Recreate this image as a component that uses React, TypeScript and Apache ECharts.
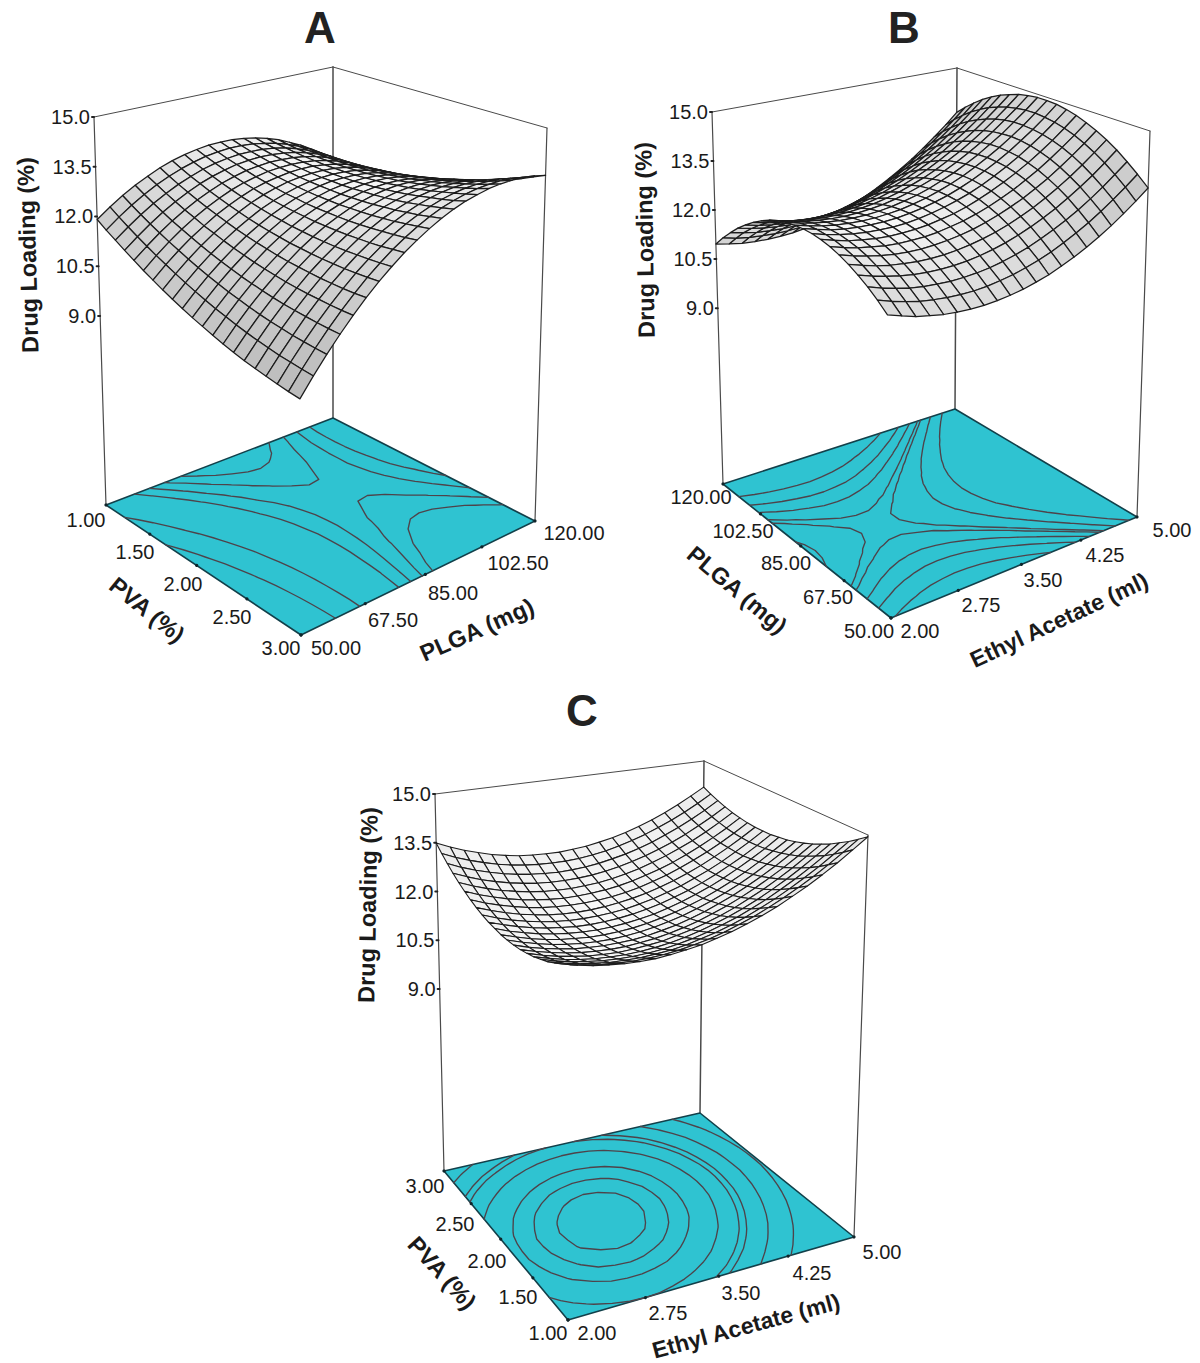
import React, { useEffect, useRef } from "react";
import * as echarts from "echarts";

// Drug Loading (%) read from the three surfaces. Rows: first factor, low row = left-to-front edge start.
// Columns: second factor, running front-to-right / left-to-back.
const surfaceA = [
[11.91,12.19,12.44,12.66,12.84,13.01,13.14,13.24,13.31,13.36,13.37,13.36,13.31,13.24,13.14,13.01,12.84,12.66,12.44,12.19,11.91],
[11.71,12.00,12.26,12.49,12.69,12.86,13.00,13.11,13.20,13.25,13.28,13.27,13.24,13.17,13.08,12.96,12.81,12.63,12.42,12.18,11.92],
[11.53,11.82,12.09,12.33,12.54,12.72,12.87,13.00,13.09,13.15,13.19,13.19,13.17,13.12,13.04,12.92,12.78,12.61,12.42,12.19,11.93],
[11.35,11.65,11.93,12.18,12.40,12.59,12.76,12.89,12.99,13.07,13.11,13.13,13.11,13.07,13.00,12.90,12.77,12.61,12.42,12.20,11.95],
[11.18,11.49,11.78,12.04,12.27,12.47,12.64,12.79,12.90,12.99,13.04,13.07,13.06,13.03,12.97,12.88,12.76,12.61,12.43,12.22,11.98],
[11.01,11.34,11.64,11.91,12.15,12.36,12.54,12.70,12.82,12.91,12.98,13.01,13.02,13.00,12.95,12.87,12.76,12.62,12.45,12.25,12.02],
[10.86,11.20,11.51,11.79,12.03,12.26,12.45,12.61,12.75,12.85,12.92,12.97,12.99,12.98,12.93,12.86,12.76,12.63,12.48,12.29,12.07],
[10.71,11.06,11.38,11.67,11.93,12.16,12.36,12.54,12.68,12.79,12.88,12.93,12.96,12.96,12.93,12.87,12.78,12.66,12.51,12.33,12.13],
[10.57,10.93,11.26,11.56,11.83,12.07,12.28,12.47,12.62,12.74,12.84,12.91,12.94,12.95,12.93,12.88,12.80,12.69,12.55,12.38,12.19],
[10.44,10.81,11.15,11.46,11.74,11.99,12.21,12.41,12.57,12.71,12.81,12.89,12.94,12.95,12.94,12.90,12.83,12.73,12.60,12.45,12.26],
[10.32,10.70,11.05,11.37,11.66,11.92,12.15,12.36,12.53,12.67,12.79,12.88,12.93,12.96,12.96,12.93,12.87,12.78,12.66,12.52,12.34],
[10.21,10.59,10.95,11.28,11.58,11.86,12.10,12.31,12.50,12.65,12.78,12.87,12.94,12.98,12.99,12.97,12.92,12.84,12.73,12.59,12.43],
[10.10,10.50,10.87,11.21,11.52,11.80,12.05,12.28,12.47,12.64,12.77,12.88,12.96,13.00,13.02,13.01,12.97,12.91,12.81,12.68,12.52],
[10.00,10.41,10.79,11.14,11.46,11.75,12.02,12.25,12.46,12.63,12.78,12.89,12.98,13.04,13.07,13.07,13.04,12.98,12.89,12.78,12.63],
[9.91,10.33,10.72,11.08,11.41,11.72,11.99,12.23,12.45,12.63,12.79,12.91,13.01,13.08,13.12,13.13,13.11,13.06,12.99,12.88,12.74],
[9.83,10.26,10.66,11.03,11.37,11.69,11.97,12.22,12.45,12.64,12.81,12.95,13.05,13.13,13.18,13.20,13.19,13.15,13.09,12.99,12.86],
[9.76,10.20,10.61,10.99,11.34,11.66,11.96,12.22,12.46,12.66,12.84,12.98,13.10,13.19,13.25,13.28,13.28,13.25,13.20,13.11,12.99],
[9.70,10.14,10.56,10.96,11.32,11.65,11.95,12.23,12.47,12.69,12.87,13.03,13.16,13.26,13.33,13.37,13.38,13.36,13.31,13.23,13.13],
[9.64,10.10,10.53,10.93,11.30,11.64,11.96,12.24,12.49,12.72,12.92,13.08,13.22,13.33,13.41,13.46,13.48,13.47,13.44,13.37,13.27],
[9.59,10.06,10.50,10.91,11.29,11.64,11.97,12.26,12.53,12.76,12.97,13.15,13.30,13.41,13.50,13.56,13.59,13.60,13.57,13.51,13.43],
[9.55,10.03,10.48,10.90,11.29,11.66,11.99,12.29,12.57,12.81,13.03,13.22,13.38,13.51,13.60,13.68,13.72,13.73,13.71,13.67,13.59],
];
const surfaceB = [
[10.96,10.87,10.80,10.76,10.74,10.74,10.76,10.81,10.88,10.97,11.09,11.23,11.39,11.58,11.79,12.02,12.27,12.55,12.85,13.17,13.52],
[11.28,11.18,11.11,11.07,11.04,11.04,11.06,11.11,11.18,11.27,11.38,11.52,11.68,11.86,12.07,12.30,12.55,12.83,13.13,13.45,13.79],
[11.56,11.47,11.39,11.35,11.32,11.32,11.34,11.38,11.45,11.54,11.65,11.78,11.94,12.12,12.33,12.55,12.80,13.08,13.37,13.69,14.03],
[11.82,11.72,11.65,11.60,11.57,11.56,11.58,11.62,11.68,11.77,11.88,12.01,12.17,12.35,12.55,12.78,13.02,13.30,13.59,13.91,14.25],
[12.04,11.94,11.87,11.82,11.78,11.78,11.79,11.83,11.89,11.98,12.09,12.22,12.37,12.55,12.75,12.97,13.21,13.48,13.78,14.09,14.43],
[12.24,12.14,12.06,12.01,11.97,11.96,11.98,12.01,12.07,12.16,12.26,12.39,12.54,12.72,12.91,13.13,13.38,13.64,13.93,14.25,14.58],
[12.41,12.30,12.22,12.17,12.13,12.12,12.13,12.17,12.22,12.30,12.41,12.53,12.68,12.85,13.05,13.27,13.51,13.77,14.06,14.37,14.70],
[12.55,12.44,12.36,12.30,12.26,12.25,12.26,12.29,12.34,12.42,12.52,12.65,12.79,12.96,13.16,13.37,13.61,13.87,14.16,14.47,14.80],
[12.65,12.55,12.46,12.40,12.36,12.34,12.35,12.38,12.43,12.51,12.61,12.73,12.87,13.04,13.23,13.45,13.68,13.94,14.23,14.53,14.86],
[12.73,12.62,12.53,12.47,12.43,12.41,12.41,12.44,12.49,12.57,12.66,12.78,12.93,13.09,13.28,13.49,13.73,13.98,14.27,14.57,14.90],
[12.78,12.67,12.58,12.51,12.47,12.45,12.45,12.48,12.52,12.60,12.69,12.81,12.95,13.11,13.30,13.51,13.74,14.00,14.27,14.58,14.90],
[12.80,12.69,12.59,12.52,12.48,12.46,12.46,12.48,12.53,12.60,12.69,12.80,12.94,13.10,13.29,13.49,13.72,13.98,14.25,14.55,14.88],
[12.79,12.67,12.58,12.51,12.46,12.44,12.43,12.45,12.50,12.57,12.66,12.77,12.90,13.06,13.25,13.45,13.68,13.93,14.20,14.50,14.82],
[12.75,12.63,12.53,12.46,12.41,12.38,12.38,12.40,12.44,12.51,12.59,12.70,12.84,13.00,13.18,13.38,13.60,13.85,14.12,14.42,14.74],
[12.68,12.56,12.46,12.39,12.33,12.30,12.30,12.31,12.35,12.42,12.50,12.61,12.74,12.90,13.07,13.28,13.50,13.75,14.02,14.31,14.62],
[12.58,12.46,12.36,12.28,12.22,12.19,12.18,12.20,12.24,12.30,12.38,12.49,12.62,12.77,12.94,13.14,13.36,13.61,13.88,14.17,14.48],
[12.45,12.33,12.22,12.14,12.09,12.05,12.04,12.05,12.09,12.15,12.23,12.33,12.46,12.61,12.78,12.98,13.20,13.44,13.71,14.00,14.31],
[12.29,12.17,12.06,11.98,11.92,11.88,11.87,11.88,11.91,11.97,12.05,12.15,12.28,12.43,12.60,12.79,13.01,13.25,13.51,13.80,14.11],
[12.11,11.98,11.87,11.78,11.72,11.69,11.67,11.68,11.71,11.76,11.84,11.94,12.06,12.21,12.38,12.57,12.78,13.02,13.28,13.57,13.87],
[11.89,11.76,11.65,11.56,11.50,11.46,11.44,11.44,11.47,11.53,11.60,11.70,11.82,11.96,12.13,12.32,12.53,12.77,13.03,13.31,13.61],
[11.64,11.51,11.39,11.31,11.24,11.20,11.18,11.18,11.21,11.26,11.33,11.43,11.54,11.69,11.85,12.04,12.25,12.48,12.74,13.02,13.32],
];
const surfaceC = [
[13.49,13.31,13.15,13.02,12.90,12.81,12.74,12.70,12.68,12.67,12.70,12.74,12.81,12.89,13.00,13.14,13.29,13.47,13.67,13.90,14.14],
[13.29,13.11,12.96,12.83,12.72,12.63,12.57,12.53,12.51,12.51,12.53,12.58,12.65,12.75,12.86,13.00,13.16,13.34,13.54,13.77,14.02],
[13.11,12.93,12.78,12.66,12.55,12.47,12.41,12.37,12.35,12.36,12.39,12.44,12.52,12.61,12.73,12.87,13.04,13.22,13.43,13.66,13.92],
[12.94,12.77,12.62,12.50,12.40,12.32,12.26,12.23,12.22,12.23,12.26,12.32,12.40,12.50,12.62,12.77,12.93,13.12,13.34,13.57,13.83],
[12.79,12.62,12.48,12.36,12.27,12.19,12.14,12.11,12.10,12.12,12.15,12.21,12.30,12.40,12.53,12.68,12.85,13.04,13.26,13.50,13.76],
[12.66,12.49,12.36,12.24,12.15,12.08,12.03,12.00,12.00,12.02,12.06,12.12,12.21,12.32,12.45,12.60,12.78,12.98,13.20,13.44,13.71],
[12.54,12.38,12.25,12.14,12.05,11.98,11.94,11.92,11.92,11.94,11.98,12.05,12.14,12.26,12.39,12.55,12.73,12.93,13.15,13.40,13.67],
[12.44,12.29,12.16,12.05,11.97,11.90,11.86,11.84,11.85,11.88,11.93,12.00,12.09,12.21,12.35,12.51,12.69,12.90,13.13,13.38,13.65],
[12.36,12.21,12.08,11.98,11.90,11.84,11.80,11.79,11.80,11.83,11.88,11.96,12.06,12.18,12.32,12.49,12.67,12.88,13.12,13.37,13.65],
[12.29,12.15,12.03,11.93,11.85,11.80,11.76,11.75,11.77,11.80,11.86,11.94,12.04,12.17,12.31,12.48,12.67,12.89,13.12,13.38,13.66],
[12.25,12.10,11.99,11.89,11.82,11.77,11.74,11.73,11.75,11.79,11.85,11.93,12.04,12.17,12.32,12.49,12.69,12.91,13.15,13.41,13.70],
[12.21,12.08,11.96,11.87,11.80,11.76,11.73,11.73,11.75,11.79,11.86,11.95,12.06,12.19,12.34,12.52,12.72,12.94,13.19,13.46,13.74],
[12.20,12.07,11.96,11.87,11.81,11.76,11.74,11.74,11.77,11.82,11.89,11.98,12.09,12.23,12.39,12.57,12.77,13.00,13.25,13.52,13.81],
[12.20,12.07,11.97,11.89,11.82,11.79,11.77,11.78,11.80,11.85,11.93,12.02,12.14,12.28,12.45,12.63,12.84,13.07,13.32,13.60,13.89],
[12.22,12.10,12.00,11.92,11.86,11.83,11.81,11.82,11.86,11.91,11.99,12.09,12.21,12.36,12.52,12.71,12.92,13.16,13.41,13.69,13.99],
[12.26,12.14,12.04,11.97,11.91,11.88,11.87,11.89,11.93,11.98,12.07,12.17,12.30,12.44,12.61,12.81,13.02,13.26,13.52,13.81,14.11],
[12.31,12.20,12.10,12.03,11.98,11.96,11.95,11.97,12.01,12.07,12.16,12.27,12.40,12.55,12.72,12.92,13.14,13.38,13.65,13.94,14.24],
[12.39,12.27,12.18,12.12,12.07,12.05,12.05,12.07,12.11,12.18,12.27,12.38,12.52,12.67,12.85,13.05,13.28,13.52,13.79,14.08,14.40],
[12.47,12.36,12.28,12.22,12.17,12.16,12.16,12.19,12.23,12.30,12.40,12.51,12.65,12.81,13.00,13.20,13.43,13.68,13.95,14.25,14.56],
[12.58,12.47,12.39,12.33,12.30,12.28,12.29,12.32,12.37,12.45,12.54,12.66,12.81,12.97,13.16,13.37,13.60,13.85,14.13,14.43,14.75],
[12.70,12.60,12.52,12.47,12.43,12.42,12.43,12.47,12.53,12.60,12.71,12.83,12.98,13.14,13.33,13.55,13.78,14.04,14.32,14.63,14.95],
];

// Contour levels on the floor of each panel
const levelsA = [10.75, 11.5, 12.5, 12.75, 12.97, 13.15];
const levelsB = [11.6, 11.95, 12.2, 12.4, 12.48, 12.75, 13.1];
const levelsC = [11.83, 11.96, 12.12, 12.42, 12.69, 12.8, 13.14, 13.6];

// Tick labels
const zTicks = [15, 13.5, 12, 10.5, 9];
const pvaUp = ["1.00", "1.50", "2.00", "2.50", "3.00"];
const pvaDown = ["3.00", "2.50", "2.00", "1.50", "1.00"];
const plgaUp = ["50.00", "67.50", "85.00", "102.50", "120.00"];
const plgaDown = ["120.00", "102.50", "85.00", "67.50", "50.00"];
const ethyl = ["2.00", "2.75", "3.50", "4.25", "5.00"];

type P = [number, number];

const PANELS = [
  {
    title: "A", titleAt: [320, 27] as P, surface: surfaceA, levels: levelsA, zFloor: 3.3, shade: 13, mesh: 1.25,
    floor: [[106, 505], [301, 635], [535, 521], [333, 418]] as P[],
    top: [[94, 117], [299, 193], [547, 128], [333, 67]] as P[],
    leftTicks: pvaUp, rightTicks: plgaUp,
    leftAt: [[86, 520], [135, 552], [183, 584], [232, 617], [281, 648]] as P[],
    rightAt: [[336, 648], [393, 620], [453, 593], [518, 563], [574, 533]] as P[],
    axisTitles: [
      { text: "Drug Loading (%)", at: [28, 255] as P, deg: 91.5, size: 23.5 },
      { text: "PVA (%)", at: [147, 610] as P, deg: -39, size: 23.5 },
      { text: "PLGA (mg)", at: [477, 630] as P, deg: 24, size: 23.5 },
    ],
  },
  {
    title: "B", titleAt: [904, 27] as P, surface: surfaceB, levels: levelsB, zFloor: 3.62, shade: 11.4, mesh: 1.25,
    floor: [[723, 484], [891, 618], [1137, 517], [955, 409]] as P[],
    top: [[712, 112], [886, 188], [1150, 131], [957, 68]] as P[],
    leftTicks: plgaDown, rightTicks: ethyl,
    leftAt: [[701, 497], [743, 531], [786, 563], [828, 597], [869, 631]] as P[],
    rightAt: [[920, 631], [981, 605], [1043, 580], [1105, 555], [1172, 530]] as P[],
    axisTitles: [
      { text: "Drug Loading (%)", at: [645, 240] as P, deg: 91, size: 23.5 },
      { text: "PLGA (mg)", at: [737, 590] as P, deg: -40, size: 23.5 },
      { text: "Ethyl Acetate (ml)", at: [1059, 620] as P, deg: 25, size: 23 },
    ],
  },
  {
    title: "C", titleAt: [582, 710] as P, surface: surfaceC, levels: levelsC, zFloor: 3.4, shade: 5, mesh: 1.1,
    floor: [[444, 1171], [568, 1320], [854, 1237], [700, 1113]] as P[],
    top: [[435, 794], [560, 876], [868, 835], [704, 761]] as P[],
    leftTicks: pvaDown, rightTicks: ethyl,
    leftAt: [[425, 1186], [455, 1224], [487, 1261], [518, 1297], [548, 1333]] as P[],
    rightAt: [[597, 1333], [668, 1313], [741, 1293], [812, 1273], [882, 1252]] as P[],
    axisTitles: [
      { text: "Drug Loading (%)", at: [368, 905] as P, deg: 89, size: 23.5 },
      { text: "PVA (%)", at: [442, 1273] as P, deg: -48, size: 23.5 },
      { text: "Ethyl Acetate (ml)", at: [746, 1326] as P, deg: 15, size: 23 },
    ],
  },
];

const FONT = '"Liberation Sans", Arial, sans-serif';
const ZMAX = 15;
const LAST = 20;

// Projective map from the unit square (s along left->front, t along left->back) to four corners.
function squareMap(c: P[]) {
  const [[x0, y0], [x1, y1], [x2, y2], [x3, y3]] = c;
  const dx3 = x0 - x1 + x2 - x3, dy3 = y0 - y1 + y2 - y3;
  const dx1 = x1 - x2, dx2 = x3 - x2, dy1 = y1 - y2, dy2 = y3 - y2;
  const den = dx1 * dy2 - dx2 * dy1;
  const g = (dx3 * dy2 - dx2 * dy3) / den;
  const h = (dx1 * dy3 - dx3 * dy1) / den;
  const a = x1 - x0 + g * x1, b = x3 - x0 + h * x3;
  const d = y1 - y0 + g * y1, e = y3 - y0 + h * y3;
  return (s: number, t: number): P => {
    const q = g * s + h * t + 1;
    return [(a * s + b * t + x0) / q, (d * s + e * t + y0) / q];
  };
}

function projector(panel: any) {
  const base = squareMap(panel.floor);
  const roof = squareMap(panel.top);
  return (s: number, t: number, z: number): P => {
    const w = (z - panel.zFloor) / (ZMAX - panel.zFloor);
    const p = base(s, t), q = roof(s, t);
    return [p[0] + (q[0] - p[0]) * w, p[1] + (q[1] - p[1]) * w];
  };
}

// Marching squares over a surface, chained into polylines in (s, t)
function contourChains(z: number[][], levels: number[]) {
  const chains: P[][] = [];
  for (const L of levels) {
    const segs: P[][] = [];
    const up = (v: number) => v >= L;
    for (let i = 0; i < LAST; i++) {
      for (let j = 0; j < LAST; j++) {
        const a = z[i][j], b = z[i + 1][j], c = z[i + 1][j + 1], d = z[i][j + 1];
        const pts: P[] = [];
        if (up(a) !== up(b)) pts.push([i + (L - a) / (b - a), j]);
        if (up(b) !== up(c)) pts.push([i + 1, j + (L - b) / (c - b)]);
        if (up(d) !== up(c)) pts.push([i + (L - d) / (c - d), j + 1]);
        if (up(a) !== up(d)) pts.push([i, j + (L - a) / (d - a)]);
        for (let k = 0; k + 1 < pts.length; k += 2) segs.push([pts[k], pts[k + 1]]);
      }
    }
    const key = (p: P) => p[0].toFixed(5) + "," + p[1].toFixed(5);
    const at = new Map<string, number[]>();
    segs.forEach((sg, n) => sg.forEach((p) => {
      const k = key(p);
      if (!at.has(k)) at.set(k, []);
      at.get(k)!.push(n);
    }));
    const used = segs.map(() => false);
    const walk = (start: P, first: number) => {
      const out: P[] = [];
      let cur = start, n = first;
      while (n >= 0) {
        used[n] = true;
        const next = key(segs[n][0]) === key(cur) ? segs[n][1] : segs[n][0];
        out.push(next);
        cur = next;
        const cand: number[] = (at.get(key(cur)) || []).filter((m) => !used[m]);
        n = cand.length ? cand[0] : -1;
      }
      return out;
    };
    segs.forEach((sg, n) => {
      if (used[n]) return;
      const forward = walk(sg[0], n);
      const cand = (at.get(key(sg[0])) || []).filter((m) => !used[m]);
      const back = cand.length ? walk(sg[0], cand[0]) : [];
      const line = [...back.reverse(), sg[0], ...forward];
      chains.push(line.map((p) => [p[0] / LAST, p[1] / LAST] as P));
    });
  }
  return chains;
}

function surfaceCells(z: number[][]) {
  const cells: number[][] = [];
  for (let i = 0; i < LAST; i++) {
    for (let j = 0; j < LAST; j++) {
      cells.push([i, j, z[i][j], z[i + 1][j], z[i + 1][j + 1], z[i][j + 1]]);
    }
  }
  // painter's order: far corner first
  return cells.sort((p, q) => p[0] - p[1] - (q[0] - q[1]));
}

function buildSeries(panel: any) {
  const proj = projector(panel);
  const zf = panel.zFloor;
  const lineEl = (a: P, b: P, stroke: string, lineWidth: number) => ({
    type: "line",
    shape: { x1: a[0], y1: a[1], x2: b[0], y2: b[1] },
    style: { stroke, lineWidth, fill: null, lineCap: "round" },
  });

  // box: value = s1,t1,z1,s2,t2,z2,width
  const box = [
    [0, 0, zf, 0, 0, ZMAX, 1.2],
    [1, 1, zf, 1, 1, ZMAX, 1.2],
    [0, 1, zf, 0, 1, ZMAX, 1.5],
    [0, 0, ZMAX, 0, 1, ZMAX, 1],
    [0, 1, ZMAX, 1, 1, ZMAX, 1],
  ];
  const ticks: number[][] = [];
  for (let k = 0; k <= 4; k++) {
    ticks.push([k / 4, 0, 0]);
    ticks.push([1, k / 4, 1]);
  }
  const chains = contourChains(panel.surface, panel.levels);

  return [
    {
      type: "custom", coordinateSystem: "none", silent: true, z: 1, data: box,
      renderItem: (_p: any, api: any) =>
        lineEl(
          proj(api.value(0), api.value(1), api.value(2)),
          proj(api.value(3), api.value(4), api.value(5)),
          "#4a4a4a", api.value(6)
        ),
    },
    {
      type: "custom", coordinateSystem: "none", silent: true, z: 2, data: [[0]],
      renderItem: () => ({
        type: "polygon",
        shape: { points: [proj(0, 0, zf), proj(1, 0, zf), proj(1, 1, zf), proj(0, 1, zf)] },
        style: { fill: "#2fc3d1", stroke: "#12404a", lineWidth: 1.6, lineJoin: "round" },
      }),
    },
    {
      type: "custom", coordinateSystem: "none", silent: true, z: 3, progressive: 0,
      data: chains.map((_c, n) => [n]),
      renderItem: (_p: any, api: any) => ({
        type: "polyline",
        shape: { points: chains[api.value(0)].map((p) => proj(p[0], p[1], zf)) },
        style: { stroke: "#4e434a", lineWidth: 1.35, fill: null, lineJoin: "round", lineCap: "round" },
      }),
    },
    {
      type: "custom", coordinateSystem: "none", silent: true, z: 4, data: ticks,
      renderItem: (_p: any, api: any) => {
        const a = proj(api.value(0), api.value(1), zf);
        return {
          type: "circle",
          shape: { cx: a[0], cy: a[1], r: 1.6 },
          style: { fill: "#10242a" },
        };
      },
    },
    {
      type: "custom", coordinateSystem: "none", silent: true, z: 5, data: zTicks.map((v) => [v]),
      renderItem: (_p: any, api: any) => {
        const a = proj(0, 0, api.value(0));
        return lineEl([a[0] - 2, a[1]], a, "#222", 2);
      },
    },
    {
      type: "custom", coordinateSystem: "none", silent: true, z: 6, progressive: 0,
      data: surfaceCells(panel.surface),
      renderItem: (_p: any, api: any) => {
        const i = api.value(0), j = api.value(1);
        const z00 = api.value(2), z10 = api.value(3), z11 = api.value(4), z01 = api.value(5);
        const dU = ((z10 + z11 - z00 - z01) / 2) * 10;
        const dV = ((z01 + z11 - z00 - z10) / 2) * 10;
        const g = Math.max(172, Math.min(250, 250 - panel.shade * Math.hypot(dU, dV)));
        const grey = Math.round(g);
        return {
          type: "polygon",
          shape: {
            points: [
              proj(i / LAST, j / LAST, z00),
              proj((i + 1) / LAST, j / LAST, z10),
              proj((i + 1) / LAST, (j + 1) / LAST, z11),
              proj(i / LAST, (j + 1) / LAST, z01),
            ],
          },
          style: { fill: `rgb(${grey},${grey},${grey})`, stroke: "#1c1c1c", lineWidth: panel.mesh, lineJoin: "round" },
        };
      },
    },
  ];
}

function buildText(panel: any) {
  const proj = projector(panel);
  const text = (t: string, at: P, font: string, align: string, deg = 0, fill = "#1a1a1a") => ({
    type: "text",
    x: at[0],
    y: at[1],
    rotation: (deg * Math.PI) / 180,
    z: 20,
    silent: true,
    style: { text: t, font, fill, textAlign: align, textVerticalAlign: "middle", align, verticalAlign: "middle" },
  });
  const els: any[] = [];
  els.push(text(panel.title, panel.titleAt, `bold 44px ${FONT}`, "center", 0, "#222"));
  zTicks.forEach((v) => {
    const a = proj(0, 0, v);
    els.push(text(v.toFixed(1), [a[0] - 4, a[1]], `20px ${FONT}`, "right"));
  });
  panel.leftTicks.forEach((t: string, k: number) => els.push(text(t, panel.leftAt[k], `20px ${FONT}`, "center")));
  panel.rightTicks.forEach((t: string, k: number) => els.push(text(t, panel.rightAt[k], `20px ${FONT}`, "center")));
  panel.axisTitles.forEach((a: any) => els.push(text(a.text, a.at, `bold ${a.size}px ${FONT}`, "center", a.deg)));
  return els;
}

export default function App() {
  const ref = useRef<HTMLDivElement>(null);
  useEffect(() => {
    document.body.style.margin = "0";
    const chart = echarts.init(ref.current!, undefined, { renderer: "svg" });
    chart.setOption({
      animation: false,
      backgroundColor: "#ffffff",
      tooltip: { show: false },
      graphic: { elements: PANELS.flatMap(buildText) },
      series: PANELS.flatMap(buildSeries),
    });
    return () => chart.dispose();
  }, []);
  return <div ref={ref} style={{ width: 1200, height: 1363 }} />;
}
